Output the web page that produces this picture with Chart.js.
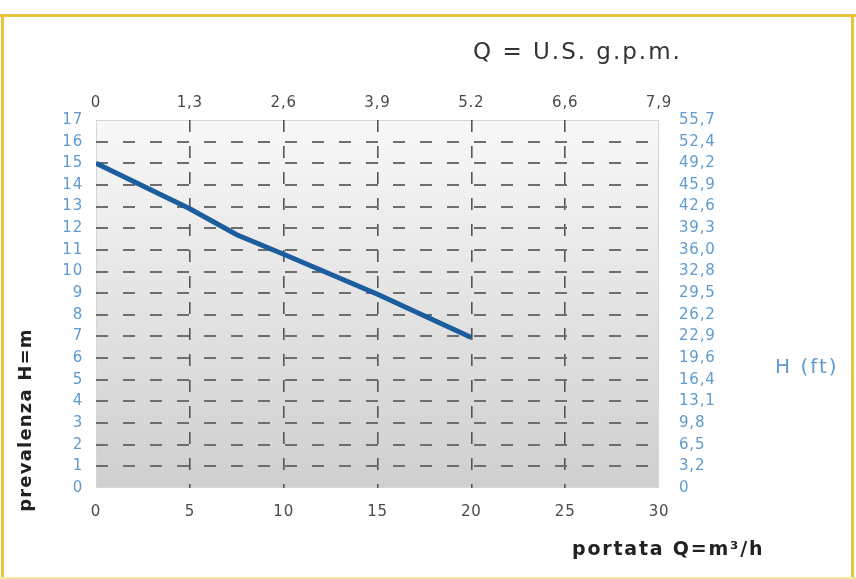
<!DOCTYPE html>
<html>
<head>
<meta charset="utf-8">
<script src="https://cdn.jsdelivr.net/npm/chart.js@4.4.1/dist/chart.umd.min.js"></script>
<style>
  html, body { margin: 0; padding: 0; background: #ffffff; }
  #wrap { width: 856px; height: 579px; position: relative; }
</style>
</head>
<body>
<div id="wrap"><canvas id="c" width="856" height="579"></canvas></div>
<script>
// ---- data ----
const flowM3h   = [0, 5, 7.5, 10, 15, 20];            // portata Q (m3/h)
const headM     = [15, 12.9, 11.7, 10.8, 8.95, 6.95]; // prevalenza H (m)
const gpmLabels = ['0', '1,3', '2,6', '3,9', '5.2', '6,6', '7,9']; // top axis (U.S. g.p.m.)
const ftLabels  = ['0', '3,2', '6,5', '9,8', '13,1', '16,4', '19,6', '22,9', '26,2', '29,5',
                   '32,8', '36,0', '39,3', '42,6', '45,9', '49,2', '52,4', '55,7']; // right axis (ft)
const titleTop   = 'Q = U.S. g.p.m.';
const titleLeft  = 'prevalenza H=m';
const titleRight = 'H (ft)';
const titleBottom = 'portata Q=m\u00B3/h';

const points = flowM3h.map((x, i) => ({ x: x, y: headM[i] }));

const AREA = { left: 96, right: 659, top: 120, bottom: 488 };
const W = 856, H = 579;
const BLUE_TXT = '#5f9bd0';
const GRAY_TXT = '#4a4a4a';
const FONT = 'DejaVu Sans';

const decor = {
  id: 'decor',
  beforeDraw(chart) {
    const ctx = chart.ctx;
    const a = chart.chartArea;
    ctx.save();
    ctx.fillStyle = '#ffffff';
    ctx.fillRect(0, 0, W, H);
    const g = ctx.createLinearGradient(0, a.top, 0, a.bottom);
    g.addColorStop(0, '#f8f8f8');
    g.addColorStop(1, '#cfcfcf');
    ctx.fillStyle = g;
    ctx.fillRect(a.left, a.top, a.right - a.left, a.bottom - a.top);
    ctx.strokeStyle = '#d6d6d6';
    ctx.lineWidth = 1;
    ctx.strokeRect(a.left + 0.5, a.top + 0.5, a.right - a.left - 1, a.bottom - a.top - 1);
    ctx.restore();
    ctx.letterSpacing = '0.8px';
  },
  afterDraw(chart) {
    const ctx = chart.ctx;
    ctx.save();
    // top title
    ctx.letterSpacing = '2px';
    ctx.fillStyle = '#333333';
    ctx.font = '23px "' + FONT + '"';
    ctx.textAlign = 'left';
    ctx.textBaseline = 'middle';
    ctx.fillText(titleTop, 473, 53);
    // right title
    ctx.fillStyle = BLUE_TXT;
    ctx.font = '20px "' + FONT + '"';
    ctx.letterSpacing = '2px';
    ctx.fillText(titleRight, 775, 368);
    // bottom title
    ctx.fillStyle = '#222222';
    ctx.font = 'bold 19px "' + FONT + '"';
    ctx.letterSpacing = '1.8px';
    ctx.fillText(titleBottom, 572, 550);
    // left title (rotated)
    ctx.translate(26, 420);
    ctx.rotate(-Math.PI / 2);
    ctx.textAlign = 'center';
    ctx.font = 'bold 18px "' + FONT + '"';
    ctx.letterSpacing = '1.2px';
    ctx.fillText(titleLeft, 0, 0);
    ctx.restore();
    // yellow frame
    ctx.save();
    ctx.strokeStyle = '#e8c43c';
    ctx.lineWidth = 3;
    ctx.beginPath();
    ctx.moveTo(0, 15.5); ctx.lineTo(W, 15.5);
    ctx.moveTo(2.5, 15); ctx.lineTo(2.5, H);
    ctx.moveTo(852.5, 15); ctx.lineTo(852.5, H);
    ctx.stroke();
    ctx.strokeStyle = '#f6e6a0';
    ctx.lineWidth = 2;
    ctx.beginPath();
    ctx.moveTo(0, 578); ctx.lineTo(W, 578);
    ctx.stroke();
    ctx.restore();
  }
};

const tickFont = { family: FONT, size: 15 };

new Chart(document.getElementById('c'), {
  type: 'line',
  data: {
    datasets: [{
      data: points,
      borderColor: '#1c5d9e',
      borderWidth: 5,
      pointRadius: 0,
      tension: 0,
      fill: false,
      xAxisID: 'x',
      yAxisID: 'y'
    }]
  },
  plugins: [decor],
  options: {
    responsive: false,
    animation: false,
    layout: { padding: 0 },
    plugins: { legend: { display: false }, tooltip: { enabled: false } },
    scales: {
      x: {
        type: 'linear', position: 'bottom', min: 0, max: 30,
        afterFit: s => { s.height = H - AREA.bottom; },
        ticks: { stepSize: 5, color: GRAY_TXT, font: tickFont, padding: 15, maxRotation: 0 },
        grid: {
          drawTicks: false, lineWidth: 1.6,
          color: c => (c.tick && (c.tick.value === 0 || c.tick.value === 30)) ? 'rgba(0,0,0,0)' : '#555555'
        },
        border: { display: false, dash: [12, 14] }
      },
      x2: {
        type: 'linear', position: 'top', min: 0, max: 30,
        afterFit: s => { s.height = AREA.top; },
        ticks: { stepSize: 5, color: GRAY_TXT, font: tickFont, padding: 8, maxRotation: 0,
                 callback: (v, i) => gpmLabels[i] },
        grid: { display: false, drawTicks: false },
        border: { display: false }
      },
      y: {
        type: 'linear', position: 'left', min: 0, max: 17,
        afterFit: s => { s.width = AREA.left; },
        ticks: { stepSize: 1, color: BLUE_TXT, font: tickFont, padding: 13 },
        grid: {
          drawTicks: false, lineWidth: 2,
          color: c => (c.tick && (c.tick.value === 0 || c.tick.value === 17)) ? 'rgba(0,0,0,0)' : '#6e6e6e'
        },
        border: { display: false, dash: [12, 15] }
      },
      y2: {
        type: 'linear', position: 'right', min: 0, max: 17,
        afterFit: s => { s.width = W - AREA.right; },
        ticks: { stepSize: 1, color: BLUE_TXT, font: tickFont, padding: 20,
                 callback: (v, i) => ftLabels[i] },
        grid: { display: false, drawTicks: false },
        border: { display: false }
      }
    }
  }
});
</script>
</body>
</html>
